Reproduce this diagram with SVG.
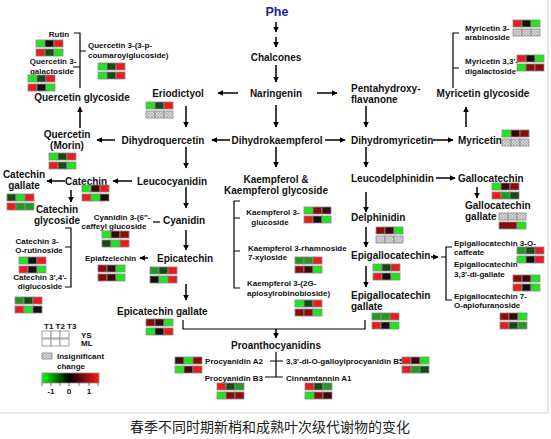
<svg xmlns="http://www.w3.org/2000/svg" width="551" height="439" viewBox="0 0 551 439">
<style>
.t{font-family:"Liberation Sans",Arial,sans-serif;font-weight:bold;font-size:10px;fill:#111}
.s{font-size:8px}
.mid{text-anchor:middle}
.end{text-anchor:end}
.a{stroke:#000;stroke-width:1.5;fill:none;marker-end:url(#ah)}
.l{stroke:#000;stroke-width:1.2;fill:none}
.hm rect{stroke:#8a8a8a;stroke-width:0.8}
.cG{fill:#1ee61e}.cg{fill:#229922}.cd{fill:#174a17}.cK{fill:#111}.ck{fill:#3d0707}.cm{fill:#8e0b0b}.cR{fill:#ea1c1c}.cH{fill:url(#hatch)}.cW{fill:#fff}
.cap{font-family:"Noto Sans CJK SC",sans-serif;font-size:14px;fill:#222}
</style>
<defs>
<marker id="ah" viewBox="0 0 10 10" refX="9" refY="5" markerWidth="4" markerHeight="4" orient="auto"><path d="M0,0 L10,5 L0,10 z" fill="#000"/></marker>
<pattern id="hatch" width="3" height="3" patternUnits="userSpaceOnUse"><rect width="3" height="3" fill="#dadada"/><path d="M0,0 L3,3 M3,0 L0,3" stroke="#9a9a9a" stroke-width="0.5"/></pattern>
<linearGradient id="bar" x1="0" x2="1" y1="0" y2="0"><stop offset="0" stop-color="#00ff00"/><stop offset="0.47" stop-color="#000"/><stop offset="1" stop-color="#ff1a1a"/></linearGradient>
</defs>
<rect width="551" height="439" fill="#fff"/>
<path d="M0,413 H548 V0" stroke="#d0d0d0" stroke-width="1" fill="none"/>

<g id="connectors">
<line class="a" x1="276" y1="22" x2="276" y2="32"/>
<line class="a" x1="276" y1="37" x2="276" y2="47"/>
<line class="a" x1="276" y1="65" x2="276" y2="82"/>
<line class="a" x1="238" y1="93" x2="218" y2="93"/>
<line class="a" x1="317" y1="93" x2="337" y2="93"/>
<line class="a" x1="186" y1="106" x2="186" y2="127"/>
<line class="a" x1="276" y1="105" x2="276" y2="127"/>
<line class="a" x1="366" y1="106" x2="366" y2="127"/>
<line class="a" x1="230" y1="140" x2="212" y2="140"/>
<line class="a" x1="325" y1="140" x2="345" y2="140"/>
<line class="a" x1="115" y1="140" x2="97" y2="140"/>
<line class="a" x1="433" y1="140" x2="453" y2="140"/>
<line class="a" x1="80" y1="128" x2="80" y2="107"/>
<line class="a" x1="466" y1="127" x2="466" y2="107"/>
<line class="a" x1="186" y1="147" x2="186" y2="168"/>
<line class="a" x1="276" y1="147" x2="276" y2="167"/>
<line class="a" x1="366" y1="147" x2="366" y2="167"/>
<line class="a" x1="132" y1="181" x2="113" y2="181"/>
<line class="a" x1="65" y1="181" x2="47" y2="181"/>
<line class="a" x1="436" y1="178" x2="455" y2="178"/>
<line class="a" x1="71" y1="190" x2="71" y2="202"/>
<line class="a" x1="477" y1="187" x2="477" y2="198"/>
<line class="a" x1="186" y1="187" x2="186" y2="208"/>
<line class="a" x1="366" y1="192" x2="366" y2="212"/>
<line class="a" x1="186" y1="230" x2="186" y2="250"/>
<line class="a" x1="366" y1="227" x2="366" y2="247"/>
<line class="a" x1="148" y1="258" x2="140" y2="258"/>
<line class="a" x1="431" y1="257" x2="438" y2="257"/>
<line class="a" x1="186" y1="284" x2="186" y2="300"/>
<line class="a" x1="366" y1="266" x2="366" y2="287"/>
<line class="a" x1="276" y1="329" x2="276" y2="338"/>
<path class="l" d="M74,33 H80 V88 M73,67 H80 M80,51 H86"/>
<path class="l" d="M459,33 H453 V88 M453,68 H459"/>
<path class="l" d="M65,228 H71 V287 H65 M65,247 H71"/>
<path class="l" d="M153,222 H160"/>
<path class="l" d="M240,201 H234 V288 H240 M234,218 H240 M234,251 H240"/>
<path class="l" d="M452,247 H446 V300 H452 M441,257 H446"/>
<path class="l" d="M183,320 V329 H365 V320"/>
<path class="l" d="M276,352 V377 M270,361 H283 M265,377 H283"/>
</g>

<g id="phe"><text class="t mid" x="277" y="16" style="font-size:12.5px;fill:#1d1d9c">Phe</text></g>
<g id="chalcones"><text class="t mid" x="276" y="61">Chalcones</text></g>
<g id="naringenin"><text class="t mid" x="276" y="97">Naringenin</text></g>
<g id="eriodictyol"><text class="t mid" x="178" y="97">Eriodictyol</text>
<g class="hm" transform="translate(146,102)"><rect width="9" height="7" class="cG"/><rect x="9" width="9" height="7" class="cd"/><rect x="18" width="9" height="7" class="cR"/><rect y="9" width="9" height="7" class="cH"/><rect x="9" y="9" width="9" height="7" class="cH"/><rect x="18" y="9" width="9" height="7" class="cH"/></g></g>
<g id="pentahydroxyflavanone"><text class="t" x="351" y="92">Pentahydroxy-</text><text class="t" x="351" y="103">flavanone</text></g>
<g id="quercetin-glycoside"><text class="t mid" x="82" y="101">Quercetin glycoside</text></g>
<g id="rutin"><text class="t s mid" x="59" y="37">Rutin</text>
<g class="hm" transform="translate(36,40)"><rect width="9" height="7" class="cG"/><rect x="9" width="9" height="7" class="cK"/><rect x="18" width="9" height="7" class="cR"/><rect y="9" width="9" height="7" class="cR"/><rect x="9" y="9" width="9" height="7" class="cd"/><rect x="18" y="9" width="9" height="7" class="cG"/></g></g>
<g id="q3-galactoside"><text class="t s mid" x="53" y="64">Quercetin 3-</text><text class="t s mid" x="52" y="74">galactoside</text>
<g class="hm" transform="translate(28,75)"><rect width="9" height="7" class="cG"/><rect x="9" width="9" height="7" class="cd"/><rect x="18" width="9" height="7" class="cR"/><rect y="9" width="9" height="7" class="cR"/><rect x="9" y="9" width="9" height="7" class="cK"/><rect x="18" y="9" width="9" height="7" class="cG"/></g></g>
<g id="q3-coumaroylglucoside"><text class="t s" x="88" y="48">Quercetin 3-(3-p-</text><text class="t s" x="88" y="58">coumaroylglucoside)</text>
<g class="hm" transform="translate(98,63)"><rect width="9" height="7" class="cG"/><rect x="9" width="9" height="7" class="cd"/><rect x="18" width="9" height="7" class="cR"/><rect y="9" width="9" height="7" class="cG"/><rect x="9" y="9" width="9" height="7" class="cd"/><rect x="18" y="9" width="9" height="7" class="cR"/></g></g>
<g id="myricetin-glycoside"><text class="t mid" x="483" y="97">Myricetin glycoside</text></g>
<g id="myr-arabinoside"><text class="t s" x="465" y="31">Myricetin 3-</text><text class="t s" x="465" y="40">arabinoside</text>
<g class="hm" transform="translate(513,20)"><rect width="9" height="7" class="cR"/><rect x="9" width="9" height="7" class="cK"/><rect x="18" width="9" height="7" class="cG"/><rect y="9" width="9" height="7" class="cH"/><rect x="9" y="9" width="9" height="7" class="cH"/><rect x="18" y="9" width="9" height="7" class="cH"/></g></g>
<g id="myr-digalactoside"><text class="t s" x="465" y="64">Myricetin 3,3'-</text><text class="t s" x="465" y="74">digalactoside</text>
<g class="hm" transform="translate(517,55)"><rect width="9" height="7" class="cR"/><rect x="9" width="9" height="7" class="cK"/><rect x="18" width="9" height="7" class="cG"/><rect y="9" width="9" height="7" class="cG"/><rect x="9" y="9" width="9" height="7" class="cm"/><rect x="18" y="9" width="9" height="7" class="cm"/></g></g>
<g id="quercetin"><text class="t mid" x="67" y="138">Quercetin</text><text class="t mid" x="67" y="149">(Morin)</text>
<g class="hm" transform="translate(49,153)"><rect width="9" height="7" class="cG"/><rect x="9" width="9" height="7" class="cd"/><rect x="18" width="9" height="7" class="cR"/><rect y="9" width="9" height="7" class="cR"/><rect x="9" y="9" width="9" height="7" class="cd"/><rect x="18" y="9" width="9" height="7" class="cG"/></g></g>
<g id="dihydroquercetin"><text class="t mid" x="163" y="144">Dihydroquercetin</text></g>
<g id="dihydrokaempferol"><text class="t mid" x="277" y="144">Dihydrokaempferol</text></g>
<g id="dihydromyricetin"><text class="t" x="351" y="144">Dihydromyricetin</text></g>
<g id="myricetin"><text class="t" x="458" y="144">Myricetin</text>
<g class="hm" transform="translate(502,130)"><rect width="9" height="7" class="cG"/><rect x="9" width="9" height="7" class="ck"/><rect x="18" width="9" height="7" class="cm"/><rect y="9" width="9" height="7" class="cH"/><rect x="9" y="9" width="9" height="7" class="cH"/><rect x="18" y="9" width="9" height="7" class="cH"/></g></g>
<g id="catechin-gallate"><text class="t mid" x="24" y="178">Catechin</text><text class="t mid" x="24" y="189">gallate</text>
<g class="hm" transform="translate(7,194)"><rect width="9" height="7" class="cd"/><rect x="9" width="9" height="7" class="cG"/><rect x="18" width="9" height="7" class="cR"/><rect y="9" width="9" height="7" class="cR"/><rect x="9" y="9" width="9" height="7" class="cg"/><rect x="18" y="9" width="9" height="7" class="cg"/></g></g>
<g id="catechin"><text class="t" x="65" y="185">Catechin</text>
<g class="hm" transform="translate(82,185)"><rect width="9" height="7" class="cG"/><rect x="9" width="9" height="7" class="ck"/><rect x="18" width="9" height="7" class="cR"/><rect y="9" width="9" height="7" class="cR"/><rect x="9" y="9" width="9" height="7" class="cG"/><rect x="18" y="9" width="9" height="7" class="cK"/></g></g>
<g id="leucocyanidin"><text class="t" x="137" y="185">Leucocyanidin</text></g>
<g id="kaempferol"><text class="t mid" x="276" y="183">Kaempferol &amp;</text><text class="t mid" x="276" y="194">Kaempferol glycoside</text></g>
<g id="leucodelphinidin"><text class="t" x="351" y="182">Leucodelphinidin</text></g>
<g id="gallocatechin"><text class="t" x="458" y="182">Gallocatechin</text>
<g class="hm" transform="translate(492,183)"><rect width="9" height="7" class="cG"/><rect x="9" width="9" height="7" class="ck"/><rect x="18" width="9" height="7" class="cm"/><rect y="9" width="9" height="7" class="cR"/><rect x="9" y="9" width="9" height="7" class="cg"/><rect x="18" y="9" width="9" height="7" class="cd"/></g></g>
<g id="gallocatechin-gallate"><text class="t" x="465" y="209">Gallocatechin</text><text class="t" x="465" y="220">gallate</text>
<g class="hm" transform="translate(499,213)"><rect width="9" height="7" class="cH"/><rect x="9" width="9" height="7" class="cH"/><rect x="18" width="9" height="7" class="cH"/><rect y="9" width="18" height="7" class="cm"/><rect x="18" y="9" width="9" height="7" class="cG"/></g></g>
<g id="catechin-glycoside"><text class="t mid" x="57" y="213">Catechin</text><text class="t mid" x="57" y="224">glycoside</text></g>
<g id="catechin-rutinoside"><text class="t s mid" x="37" y="244">Catechin 3-</text><text class="t s mid" x="39" y="253">O-rutinoside</text>
<g class="hm" transform="translate(19,257)"><rect width="9" height="7" class="cG"/><rect x="9" width="9" height="7" class="cK"/><rect x="18" width="9" height="7" class="cR"/><rect y="9" width="9" height="7" class="cR"/><rect x="9" y="9" width="9" height="7" class="cK"/><rect x="18" y="9" width="9" height="7" class="cG"/></g></g>
<g id="catechin-diglucoside"><text class="t s mid" x="40" y="280">Catechin 3',4'-</text><text class="t s mid" x="40" y="289">diglucoside</text>
<g class="hm" transform="translate(15,297)"><rect width="9" height="7" class="cg"/><rect x="9" width="9" height="7" class="cd"/><rect x="18" width="9" height="7" class="cR"/><rect y="9" width="9" height="7" class="cR"/><rect x="9" y="9" width="9" height="7" class="cG"/><rect x="18" y="9" width="9" height="7" class="cK"/></g></g>
<g id="cyanidin-caffeyl"><text class="t s mid" x="122" y="220">Cyanidin 3-(6"-</text><text class="t s mid" x="114" y="229">caffeyl glucoside</text>
<g class="hm" transform="translate(102,231)"><rect width="9" height="7" class="cG"/><rect x="9" width="9" height="7" class="ck"/><rect x="18" width="9" height="7" class="cm"/><rect y="9" width="9" height="7" class="cd"/><rect x="9" y="9" width="9" height="7" class="cG"/><rect x="18" y="9" width="9" height="7" class="cR"/></g></g>
<g id="cyanidin"><text class="t" x="163" y="224">Cyanidin</text></g>
<g id="kaempferol-glucoside"><text class="t s mid" x="273" y="215">Kaempferol 3-</text><text class="t s mid" x="270" y="225">glucoside</text>
<g class="hm" transform="translate(304,207)"><rect width="9" height="7" class="cG"/><rect x="9" width="9" height="7" class="cm"/><rect x="18" width="9" height="7" class="ck"/><rect y="9" width="9" height="7" class="cR"/><rect x="9" y="9" width="9" height="7" class="cK"/><rect x="18" y="9" width="9" height="7" class="cG"/></g></g>
<g id="kaempferol-rhamnoside"><text class="t s" x="248" y="251">Kaempferol 3-rhamnoside</text><text class="t s" x="248" y="260">7-xyloside</text>
<g class="hm" transform="translate(295,257)"><rect width="9" height="7" class="cg"/><rect x="9" width="9" height="7" class="cg"/><rect x="18" width="9" height="7" class="cR"/><rect y="9" width="9" height="7" class="cm"/><rect x="9" y="9" width="9" height="7" class="ck"/><rect x="18" y="9" width="9" height="7" class="cG"/></g></g>
<g id="kaempferol-apiosyl"><text class="t s" x="247" y="286">Kaempferol 3-(2G-</text><text class="t s" x="247" y="296">apiosylrobinobioside)</text>
<g class="hm" transform="translate(295,300)"><rect width="9" height="7" class="cG"/><rect x="9" width="9" height="7" class="cd"/><rect x="18" width="9" height="7" class="cR"/><rect y="9" width="9" height="7" class="cm"/><rect x="9" y="9" width="9" height="7" class="cm"/><rect x="18" y="9" width="9" height="7" class="cG"/></g></g>
<g id="delphinidin"><text class="t" x="351" y="221">Delphinidin</text>
<g class="hm" transform="translate(376,227)"><rect width="9" height="7" class="cm"/><rect x="9" width="9" height="7" class="ck"/><rect x="18" width="9" height="7" class="cG"/><rect y="9" width="9" height="7" class="cH"/><rect x="9" y="9" width="9" height="7" class="cH"/><rect x="18" y="9" width="9" height="7" class="cH"/></g></g>
<g id="epiafzelechin"><text class="t s" x="85" y="261">Epiafzelechin</text>
<g class="hm" transform="translate(98,265)"><rect width="9" height="7" class="cm"/><rect x="9" width="9" height="7" class="ck"/><rect x="18" width="9" height="7" class="cG"/><rect y="9" width="9" height="7" class="cm"/><rect x="9" y="9" width="9" height="7" class="ck"/><rect x="18" y="9" width="9" height="7" class="cG"/></g></g>
<g id="epicatechin"><text class="t" x="157" y="262">Epicatechin</text>
<g class="hm" transform="translate(150,267)"><rect width="9" height="7" class="cg"/><rect x="9" width="9" height="7" class="cd"/><rect x="18" width="9" height="7" class="cR"/><rect y="9" width="9" height="7" class="cK"/><rect x="9" y="9" width="9" height="7" class="cG"/><rect x="18" y="9" width="9" height="7" class="cR"/></g></g>
<g id="epigallocatechin"><text class="t" x="351" y="259">Epigallocatechin</text>
<g class="hm" transform="translate(373,264)"><rect width="9" height="7" class="cG"/><rect x="9" width="9" height="7" class="cd"/><rect x="18" width="9" height="7" class="cR"/><rect y="9" width="9" height="7" class="cR"/><rect x="9" y="9" width="9" height="7" class="cK"/><rect x="18" y="9" width="9" height="7" class="cG"/></g></g>
<g id="egc-caffeate"><text class="t s" x="454" y="246">Epigallocatechin 3-O-</text><text class="t s" x="454" y="255">caffeate</text>
<g class="hm" transform="translate(517,247)"><rect width="9" height="7" class="cg"/><rect x="9" width="9" height="7" class="cd"/><rect x="18" width="9" height="7" class="cR"/><rect y="9" width="9" height="7" class="cG"/><rect x="9" y="9" width="9" height="7" class="cK"/><rect x="18" y="9" width="9" height="7" class="cR"/></g></g>
<g id="egc-digallate"><text class="t s" x="454" y="267">Epigallocatechin</text><text class="t s" x="454" y="277">3,3'-di-gallate</text>
<g class="hm" transform="translate(513,275)"><rect width="9" height="7" class="cm"/><rect x="9" width="9" height="7" class="ck"/><rect x="18" width="9" height="7" class="cG"/><rect y="9" width="9" height="7" class="cR"/><rect x="9" y="9" width="9" height="7" class="cK"/><rect x="18" y="9" width="9" height="7" class="cG"/></g></g>
<g id="egc-apiofuranoside"><text class="t s" x="454" y="299">Epigallocatechin 7-</text><text class="t s" x="454" y="308">O-apiofuranoside</text>
<g class="hm" transform="translate(500,313)"><rect width="9" height="7" class="cm"/><rect x="9" width="9" height="7" class="ck"/><rect x="18" width="9" height="7" class="cG"/><rect y="9" width="9" height="7" class="cR"/><rect x="9" y="9" width="9" height="7" class="cd"/><rect x="18" y="9" width="9" height="7" class="cg"/></g></g>
<g id="epicatechin-gallate"><text class="t" x="117" y="315">Epicatechin gallate</text>
<g class="hm" transform="translate(146,319)"><rect width="9" height="7" class="cm"/><rect x="9" width="9" height="7" class="ck"/><rect x="18" width="9" height="7" class="cG"/><rect y="9" width="9" height="7" class="cG"/><rect x="9" y="9" width="9" height="7" class="cK"/><rect x="18" y="9" width="9" height="7" class="cR"/></g></g>
<g id="epigallocatechin-gallate"><text class="t" x="351" y="299">Epigallocatechin</text><text class="t" x="351" y="310">gallate</text>
<g class="hm" transform="translate(372,313)"><rect width="9" height="7" class="cg"/><rect x="9" width="9" height="7" class="cg"/><rect x="18" width="9" height="7" class="cR"/><rect y="9" width="9" height="7" class="cR"/><rect x="9" y="9" width="9" height="7" class="cK"/><rect x="18" y="9" width="9" height="7" class="cG"/></g></g>
<g id="proanthocyanidins"><text class="t mid" x="276" y="349">Proanthocyanidins</text></g>
<g id="procyanidin-a2"><text class="t s end" x="263" y="364">Procyanidin A2</text>
<g class="hm" transform="translate(175,357)"><rect width="9" height="7" class="ck"/><rect x="9" width="9" height="7" class="cG"/><rect x="18" width="9" height="7" class="cm"/><rect y="9" width="9" height="7" class="cG"/><rect x="9" y="9" width="9" height="7" class="ck"/><rect x="18" y="9" width="9" height="7" class="cR"/></g></g>
<g id="procyanidin-b3"><text class="t s end" x="263" y="381">Procyanidin B3</text>
<g class="hm" transform="translate(217,383)"><rect width="9" height="7" class="cR"/><rect x="9" width="9" height="7" class="cd"/><rect x="18" width="9" height="7" class="cg"/><rect y="9" width="9" height="7" class="cG"/><rect x="9" y="9" width="9" height="7" class="cm"/><rect x="18" y="9" width="9" height="7" class="cm"/></g></g>
<g id="procyanidin-b5"><text class="t s" x="286" y="364">3,3'-di-O-galloylprocyanidin B5</text>
<g class="hm" transform="translate(402,357)"><rect width="9" height="7" class="cR"/><rect x="9" width="9" height="7" class="ck"/><rect x="18" width="9" height="7" class="cG"/><rect y="9" width="9" height="7" class="cR"/><rect x="9" y="9" width="9" height="7" class="cg"/><rect x="18" y="9" width="9" height="7" class="cd"/></g></g>
<g id="cinnamtannin-a1"><text class="t s" x="286" y="381">Cinnamtannin A1</text>
<g class="hm" transform="translate(305,383)"><rect width="9" height="7" class="cR"/><rect x="9" width="9" height="7" class="cd"/><rect x="18" width="9" height="7" class="cg"/><rect y="9" width="9" height="7" class="cG"/><rect x="9" y="9" width="9" height="7" class="cm"/><rect x="18" y="9" width="9" height="7" class="ck"/></g></g>

<g id="legend">
<text class="t s" x="44" y="329">T1 T2 T3</text>
<g class="hm" transform="translate(42,331)"><rect width="9" height="7" class="cW"/><rect x="9" width="9" height="7" class="cW"/><rect x="18" width="9" height="7" class="cW"/><rect y="8" width="9" height="7" class="cW"/><rect x="9" y="8" width="9" height="7" class="cW"/><rect x="18" y="8" width="9" height="7" class="cW"/></g>
<text class="t s" x="81" y="338">YS</text>
<text class="t s" x="81" y="346">ML</text>
<g class="hm" transform="translate(42,353)"><rect width="10" height="6" class="cH"/></g>
<text class="t s" x="57" y="359">Insignificant</text>
<text class="t s" x="57" y="369">change</text>
<rect x="42" y="373" width="57" height="10" fill="url(#bar)" stroke="#8a8a8a" stroke-width="0.8"/>
<path d="M42,383 V386 M51,383 V386 M60,383 V386 M69,383 V386 M79,383 V386 M89,383 V386 M98,383 V386" stroke="#555" stroke-width="0.8"/>
<text class="t s mid" x="51" y="394">-1</text>
<text class="t s mid" x="69" y="394">0</text>
<text class="t s mid" x="89" y="394">1</text>
</g>
<g id="caption"><text class="cap mid" x="270" y="432">春季不同时期新梢和成熟叶次级代谢物的变化</text></g>
</svg>
